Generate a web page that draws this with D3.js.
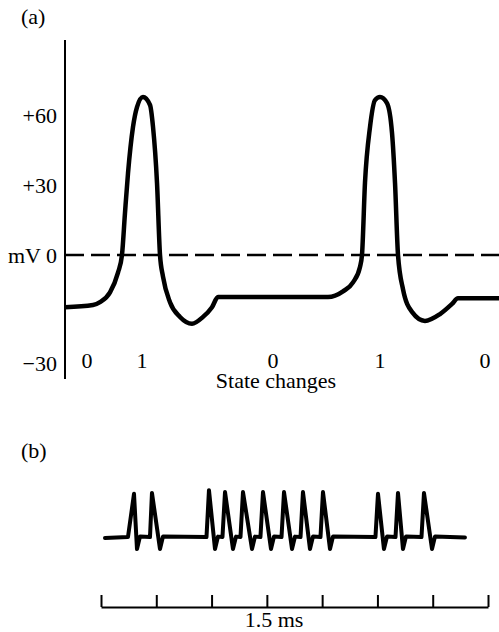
<!DOCTYPE html>
<html>
<head>
<meta charset="utf-8">
<script src="https://cdn.jsdelivr.net/npm/d3@7"></script>
<style>
  body { margin: 0; background: #fff; }
  text { font-family: "Liberation Serif", "DejaVu Serif", serif; fill: #000; }
</style>
</head>
<body>
<div id="chart"></div>
<script>
var width = 499, height = 632;

// ---- panel (a): membrane potential trace (time in arbitrary units, mV) ----
var traceT = [0, 6.45, 8.06, 10.37, 12.21, 13.13, 13.82, 14.52, 15.67, 16.59, 17.97, 19.59, 20.28, 21.2, 21.89,
              22.58, 24.19, 26.5, 29.26, 31.8, 33.87, 35.25, 60.6, 64.06, 66.36, 67.97, 68.43, 69.12, 70.28,
              71.43, 72.58, 74.19, 75.35, 76.04, 76.73, 77.88, 79.95, 82.95, 86.41, 89.17, 90.55, 100];
var traceMV = [-14.5, -13.9, -13.1, -10.4, -4.9, 0, 18, 35.1, 54.9, 63.4, 67.7, 64.3, 54.9, 30.9, 0,
               -6, -13.1, -17.2, -19.1, -17.2, -14.5, -11.7, -11.7, -10.1, -7.6, -3.3, 0, 30.9, 54.9,
               66.4, 67.7, 65.1, 52.3, 30.9, 0, -9.5, -15.8, -18.3, -16.4, -13.6, -12, -12];

var mvTicks = [-30, 0, 30, 60];
var mvLabels = ["\u221230", "mV 0", "+30", "+60"];

var stateT = [5.07, 17.74, 47.93, 72.58, 96.77];
var stateLabels = ["0", "1", "0", "1", "0"];

// ---- panel (b): spike train (time in scale-bar divisions) ----
var spikeRise    = [0.488, 0.886, 1.908, 2.197, 2.523, 2.884, 3.265, 3.609, 3.970, 4.964, 5.327, 5.797];
var spikePeak    = [0.597, 0.922, 1.953, 2.243, 2.568, 2.930, 3.310, 3.653, 4.015, 5.010, 5.372, 5.842];
var spikeTrough  = [0.651, 1.067, 2.062, 2.387, 2.731, 3.075, 3.455, 3.780, 4.142, 5.118, 5.462, 5.987];
var spikeRecover = [0.705, 1.121, 2.116, 2.442, 2.785, 3.129, 3.509, 3.834, 4.196, 5.173, 5.516, 6.041];
var peakHeight   = [0.96, 0.98, 1.04, 1.0, 1.0, 1.0, 1.0, 1.0, 1.0, 0.96, 0.98, 0.98];
var troughDepth  = -0.24;
var trainStart = 0.072, trainEnd = 6.583;

var barTicks = [0, 1, 2, 3, 4, 5, 6, 7];
var barLabel = "1.5 ms";

var svg = d3.select("#chart").append("svg")
    .attr("width", width)
    .attr("height", height);

svg.append("rect").attr("width", width).attr("height", height).attr("fill", "#fff");

// scales for (a)
var xA = d3.scaleLinear().domain([0, 100]).range([65, 499]);
var yA = d3.scaleLinear().domain([-30, 0, 30, 60]).range([363, 255, 185, 115]);

svg.append("text")
    .attr("x", 21).attr("y", 24)
    .style("font-size", "22px")
    .text("(a)");

// y axis line
svg.append("line")
    .attr("x1", 65).attr("x2", 65)
    .attr("y1", 40).attr("y2", 379)
    .attr("stroke", "#000")
    .attr("stroke-width", 2);

var yAxis = d3.axisLeft(yA)
    .tickValues(mvTicks)
    .tickSize(0)
    .tickPadding(8)
    .tickFormat(function(d, i) { return mvLabels[i]; });

var gy = svg.append("g")
    .attr("transform", "translate(65,0)")
    .call(yAxis);
gy.select(".domain").remove();
gy.selectAll("text")
    .style("font-size", "22px")
    .attr("font-family", "Liberation Serif, serif");

// zero line
svg.append("line")
    .attr("x1", xA(0)).attr("x2", xA(100))
    .attr("y1", yA(0)).attr("y2", yA(0))
    .attr("stroke", "#000")
    .attr("stroke-width", 2.4)
    .attr("stroke-dasharray", "19,7");

var lineA = d3.line()
    .x(function(d, i) { return xA(traceT[i]); })
    .y(function(d, i) { return yA(traceMV[i]); })
    .curve(d3.curveMonotoneX);

svg.append("path")
    .attr("d", lineA(traceT))
    .attr("fill", "none")
    .attr("stroke", "#000")
    .attr("stroke-width", 4.5)
    .attr("stroke-linejoin", "round");

// state labels
svg.selectAll(".state")
    .data(stateLabels)
    .enter().append("text")
    .attr("class", "state")
    .attr("x", function(d, i) { return xA(stateT[i]); })
    .attr("y", 368)
    .attr("text-anchor", "middle")
    .style("font-size", "22px")
    .text(function(d) { return d; });

svg.append("text")
    .attr("x", 276).attr("y", 388)
    .attr("text-anchor", "middle")
    .style("font-size", "22px")
    .text("State changes");

// ---- panel (b) ----
svg.append("text")
    .attr("x", 21).attr("y", 458)
    .style("font-size", "22px")
    .text("(b)");

var xB = d3.scaleLinear().domain([0, 7]).range([101, 488]);
var yB = d3.scaleLinear().domain([0, 1]).range([538, 492]);

var trainPts = [[trainStart, 0]];
spikePeak.forEach(function(p, i) {
    trainPts.push([spikeRise[i], 0.02]);
    trainPts.push([p, peakHeight[i]]);
    trainPts.push([spikeTrough[i], troughDepth]);
    trainPts.push([spikeRecover[i], 0.03]);
});
trainPts.push([trainEnd, 0.01]);

var lineB = d3.line()
    .x(function(d) { return xB(d[0]); })
    .y(function(d) { return yB(d[1]); });

svg.append("path")
    .attr("d", lineB(trainPts))
    .attr("fill", "none")
    .attr("stroke", "#000")
    .attr("stroke-width", 4)
    .attr("stroke-linejoin", "round")
    .attr("stroke-linecap", "round");

// scale bar
var barAxis = d3.axisTop(xB)
    .tickValues(barTicks)
    .tickSize(12)
    .tickSizeOuter(0)
    .tickFormat("");

var gb = svg.append("g")
    .attr("transform", "translate(0,607)")
    .call(barAxis);
gb.selectAll("path, line")
    .attr("stroke", "#000")
    .attr("stroke-width", 2);

svg.append("text")
    .attr("x", 274).attr("y", 627)
    .attr("text-anchor", "middle")
    .style("font-size", "22px")
    .text(barLabel);
</script>
</body>
</html>
